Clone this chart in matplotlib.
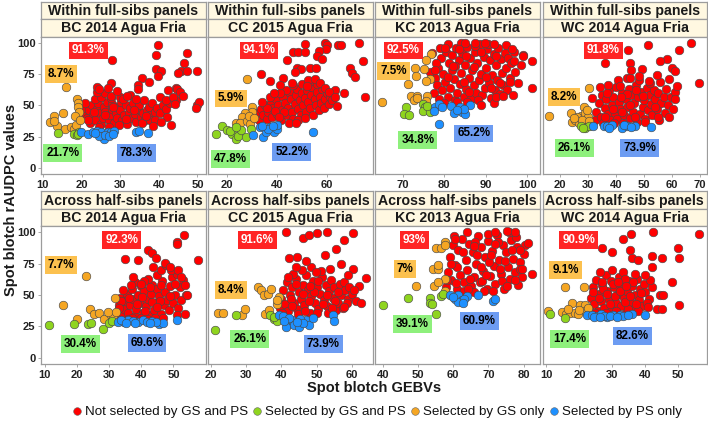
import matplotlib
matplotlib.use("Agg")
import matplotlib.pyplot as plt
from matplotlib.lines import Line2D

plt.rcParams['font.family'] = ['Liberation Sans', 'DejaVu Sans']

# colours of the four groups
c_red = "#ff0000"
c_green = "#8fd41f"
c_orange = "#f5a623"
c_blue = "#1e90ff"
box_colors = {"red": "#ff2424", "orange": "#fcc14f", "green": "#8ef07c", "blue": "#6d9cf2"}

rows = ["Within full-sibs panels", "Across half-sibs panels"]
envs = ["BC 2014 Agua Fria", "CC 2015 Agua Fria", "KC 2013 Agua Fria", "WC 2014 Agua Fria"]

# ---------------- BC 2014, within full-sibs ----------------
bc14_full_red = [(20.5,44),(21,48),(21.5,40),(22,46),(22.2,36),(22.8,50),(23,42),(23.5,38),(24,47),(24.2,52),
    (24.8,44),(25,35),(25.5,40),(25.8,49),(26.2,45),(26.5,53),(27,38),(27.3,42),(27.8,47),(28,51),(28.4,36),
    (28.8,44),(29.2,40),(29.5,49),(30,46),(30.2,53),(30.6,38),(31,42),(31.4,50),(31.8,35),(32.2,45),(32.5,48),
    (33,40),(33.3,52),(33.8,43),(34.2,37),(34.5,47),(35,50),(35.3,41),(35.8,44),(36.2,54),(36.5,38),(37,46),
    (37.4,49),(38,42),(38.3,52),(39,45),(39.5,48),(40.2,44),(41,50),(42,47),(23.5,55),(25,57),(27.5,56),(30,57),
    (32.5,58),(34,55),(21.8,38),(24.5,33),(27.2,33),(29.8,34),(26,42.5),(28.2,48.5),(31.5,39),(35.6,35.5),
    (37.8,38.5),(20.8,52),(23.2,44.5),(30.8,55),(33.6,46),(36.8,41.5),(39,38),(43,52),(44.5,54),(42.2,41),
    (40.5,36.5),(24,61),(26,60),
    (39.8,98.1),(39.3,90.4),(47.3,91.7),(27.9,86.1),(39.4,79.5),(40.5,77.3),(46.5,83.7),(45.8,77.9),(47.4,77.9),
    (49.8,77.9),(45.1,75.7),(35.6,71.7),(37.4,69.1),(39.8,73.6),(27.5,68.3),(23.9,65.1),(24.4,62.9),(26.8,63.5),
    (34.6,66.1),(34.6,62.9),(42.4,62.4),(44.4,64.3),(44.8,62.9),(45.4,60.3),(27.5,57.6),(29.2,61.6),(31.8,57.6),
    (40.2,56.3),(41.9,54.4),(43.7,56.3),(46.3,57.6),(44.1,50.9),(49.8,50.1),(50.4,52.3),(49.6,47.5),(43.2,34.1),
    (38.5,33.6)]
bc14_full_orange = [(16.0,64.8),(18.8,55.0),(19.2,51.5),(19.0,48.3),(19.4,44.8),(18.3,41.6),(15.1,43.7),(12.9,41.1),
    (11.9,36.8),(13.6,33.6),(15.7,30.9),(17.3,32.3),(18.1,30.9),(18.6,34.1),(12.9,37.6),(19.6,38.5)]
bc14_full_green = [(14.0,27.7),(18.1,26.9),(18.8,26.4),(19.4,28.3),(19.0,27.3)]
bc14_full_blue = [(19.9,28.8),(21.8,26.7),(22.9,28.3),(24.0,29.1),(25.1,28.3),(25.5,25.6),(25.9,22.9),(26.8,28.3),
    (27.7,28.8),(24.6,25.6),(34.2,28.3),(34.9,29.3),(37.1,27.7),(28.5,29.5),(23.5,27.5),(26.2,26.5),(27.2,25.8),
    (28.2,27.2)]

# ---------------- CC 2015, within full-sibs ----------------
cc15_full_red = [(31,40),(32,44),(33,38),(33.5,47),(34.5,42),(35,50),(36,39),(36.5,45),(37.5,52),(38,41),(38.5,48),
    (39.5,55),(40,43),(40.5,50),(41.5,38),(42,46),(42.5,57),(43,52),(44,42),(44.5,48),(45,60),(45.5,55),(46,45),
    (46.5,39),(47,51),(47.5,58),(48,63),(48.5,47),(49,54),(49.5,42),(50,60),(50.5,50),(51,56),(51.5,45),(52,62),
    (52.5,53),(53,48),(53.5,58),(54,65),(54.5,42),(55,55),(55.5,50),(56,61),(56.5,46),(57,57),(57.5,52),(58,63),
    (58.5,48),(59,55),(60,60),(60.5,51),(61,57),(62,54),(63,62),(43.5,62),(46.5,66),(41,60),(39,45.5),(37,57),
    (49.8,67),(52.8,69),(55.8,67),(44.8,36),(48.2,38.5),(51.2,40),(42.8,44.5),(40.8,41),(35.8,48),(34,53),(38.8,60),
    (58.9,100.3),(59.9,98.1),(51.2,98.9),(64.1,98.1),(65.6,98.1),(72.5,99.7),(59.5,94.9),(46.5,93.1),(48.5,93.1),
    (51.2,93.1),(56.5,93.6),(55.9,89.6),(57.9,87.5),(44.1,86.4),(74.3,85.6),(47.9,80.3),(49.6,78.9),(53.2,79.7),
    (55.5,80.3),(47.2,76.8),(33.6,74.9),(37.2,69.6),(69.2,79.7),(69.9,75.7),(71.2,73.1),(42.5,72.3),(45.9,68.3),
    (41.2,66.1),(52.5,70.4),(55.2,71.5),(57.2,68.3),(51.9,65.6),(59.2,64.3),(60.5,60.3),(66.5,59.7),(74.9,56.3),
    (63.2,56.3),(63.9,49.6),(47.5,35.7)]
cc15_full_orange = [(27.9,71.5),(29.9,48.3),(29.9,44.3),(27.2,43.7),(25.9,40.3),(23.5,35.7),(25.2,35.7),(27.9,37.6),
    (29.2,35.0),(28.8,41.5),(30.8,39.5)]
cc15_full_green = [(17.9,33.6),(15.5,26.9),(19.9,30.4),(22.1,26.9),(23.5,22.9),(24.5,25.6),(25.6,30.4),(27.5,24.3),
    (29.6,30.9),(21.2,29.5),(23.8,32.5)]
cc15_full_blue = [(30.3,26.1),(33.2,32.3),(34.5,24.3),(35.5,28.8),(37.2,32.3),(38.9,28.3),(39.9,30.9),(39.9,34.1),
    (54.5,28.8),(36.4,31),(38.2,33.5),(34.0,33.8)]

# ---------------- KC 2013, within full-sibs ----------------
kc13_full_red = [(77.5,60),(77.8,72),(78.2,66),(78.5,80),(78.8,55),(79.2,88),(79.5,62),(79.8,75),(80.2,69),(80.5,93),
    (80.8,57),(81.2,84),(81.5,64),(81.8,78),(82,90),(82.3,71),(82.6,54),(82.9,96),(83.2,60),(83.5,86),(83.8,67),
    (84.1,76),(84.4,92),(84.7,57),(85,82),(85.3,63),(85.6,97),(85.9,72),(86.2,88),(86.5,55),(86.8,78),(87.1,66),
    (87.4,93),(87.7,60),(88,84),(88.3,70),(88.6,99),(88.9,75),(89.2,58),(89.5,89),(89.8,64),(90.1,80),(90.4,95),
    (90.7,68),(91,86),(91.3,56),(91.6,74),(91.9,91),(92.2,62),(92.5,82),(92.8,70),(93.1,96),(93.4,59),(93.7,87),
    (94,76),(94.3,66),(94.6,92),(94.9,80),(95.2,62),(95.5,88),(95.8,72),(96.1,84),(96.5,58),(96.8,93),(97.2,77),
    (79,96),(81,99),(84,100),(87.5,97.5),(90.5,99),(83,52.5),(85.5,53),(88.2,54),(80,51.5),(78,84),(76.5,77),(77,92),
    (95,98),(98.5,82),(99,90),(92,52),(89,50.5),(84.8,68.5),(86,61),(87.2,80.5),(88.8,92.5),(90,72.5),(91.2,63.5),
    (82.5,81.5),(81,73),(83.6,95),(85.2,89.5),(93.5,68),(92.5,89.5),(96,68.5),
    (80.2,96.3),(85.0,100.3),(87.5,100.3),(89.9,100.3),(91.9,98.9),(96.4,94.9),(98.9,89.6),(101.3,85.6),(96.8,85.6),
    (77.7,78.4),(82.2,81.6),(97.9,68.3),(101.3,63.5),(92.4,56.3),(94.2,57.1)]
kc13_full_orange = [(76.7,90.9),(75.7,86.4),(73.0,80.3),(75.1,78.9),(73.3,73.6),(76.5,71.5),(75.7,69.6),(71.2,66.9),
    (65.1,52.3),(72.0,57.1),(73.5,57.6),(72.7,54.4),(75.9,57.6),(75.7,53.6),(73.4,55.8)]
kc13_full_green = [(70.8,48.3),(70.4,42.9),(71.6,42.4),(74.9,50.9),(75.3,48.3),(76.1,46.9),(74.9,45.6),(76.5,44.8),
    (75.8,49.8)]
kc13_full_blue = [(77.7,48.3),(78.8,50.9),(77.6,45.6),(81.6,49.1),(82.4,43.7),(83.8,48.3),(84.4,44.8),(85.0,42.9),
    (86.3,50.1),(84.8,47.2),(78.7,34.9),(83.0,46.2),(79.5,49.0)]

# ---------------- WC 2014, within full-sibs ----------------
wc14_full_red = [(32.5,38),(33,45),(34,52),(34.5,41),(35,58),(35.5,36),(36,48),(36.5,55),(37,43),(37.5,62),(38,38),
    (38.5,50),(39,57),(39.5,44),(40,65),(40.5,39),(41,53),(41.5,47),(42,60),(42.5,36),(43,42),(43.5,55),(44,49),
    (44.5,63),(45,40),(45.5,58),(46,45),(46.5,52),(47,66),(47.5,37),(48,57),(48.5,43),(49,61),(49.5,49),(50,54),
    (50.5,39),(51,64),(51.5,46),(52,58),(52.5,51),(53,42),(53.5,62),(54,55),(54.5,47),(55,60),(55.5,38),(56,52),
    (57,57),(57.5,44),(58,63),(37.2,66),(40.8,70),(44,72),(48.2,70),(52.3,68),(55.6,69),(42.2,44.5),(46.8,41),
    (50.2,36.5),(38.8,47),(45.2,50.5),(49.5,57.5),(43.8,59),(47.2,62),(36.2,40.5),(41.8,57),(53.8,49),(39.2,35.5),
    (55,41),(58.5,50),(59.5,57),(61,61),(60.5,47),
    (66.9,100.3),(51.4,98.1),(44.3,94.4),(62.4,94.4),(58.2,87.5),(55.8,85.6),(36.2,83.7),(45.1,84.3),(45.4,78.4),
    (49.3,78.9),(60.0,80.3),(61.2,77.6),(69.5,68.3),(45.1,72.3),(48.1,73.6),(51.7,69.6),(54.6,74.1),(58.8,70.9),
    (61.8,65.6),(34.4,65.1),(31.4,55.5),(36.8,59.7),(41.5,65.6),(61.2,55.0),(58.8,40.3)]
wc14_full_orange = [(30.5,64.3),(28.5,48.3),(16.2,41.1),(24.0,43.7),(24.3,36.3),(25.5,38.4),(27.6,41.6),(29.0,43.7),
    (30.2,40.3),(26.7,35.7),(29.0,35.0),(26.0,41.0),(28.0,38.5),(30.5,37.5),(25.0,40.0),(29.6,46.0)]
wc14_full_green = [(27.6,33.1),(29.0,31.5),(30.5,33.6),(28.3,32.0)]
wc14_full_blue = [(31.7,33.1),(35.6,33.6),(36.8,33.1),(38.6,34.1),(42.1,31.5),(43.9,33.6),(46.9,33.6),(52.6,32.3),
    (37.5,31.8),(43.0,34.5),(45.5,32.8)]

# ---------------- BC 2014, across half-sibs ----------------
bc14_half_red = [(32.5,36),(33,42),(33.5,48),(34,33),(34.5,39),(35,45),(35.5,51),(36,36),(36.5,42),(37,55),(37.5,47),
    (38,33),(38.5,39),(39,50),(39.5,44),(40,57),(40.5,36),(41,53),(41.5,41),(42,47),(42.5,34),(43,51),(43.5,58),
    (44,38),(44.5,44),(45,55),(45.5,49),(46,35),(46.5,61),(47,42),(47.5,52),(48,46),(48.5,38),(49,57),(49.5,64),
    (50,44),(50.5,50),(51,67),(51.5,40),(52,56),(38,60),(42,63),(44.8,66),(46,70),(47.8,74),(49.2,70),(36.8,58),
    (34.2,54),(33.8,45),(35.8,30.8),(37.2,32),(39.8,31.5),(41.8,31.2),(44.2,32),(46.8,31.8),(43.2,44.5),(40.2,48.5),
    (45.8,45.5),(38.8,43),(41.2,37.5),(48.8,49.5),(44.8,40.5),(46.2,58),(42.8,56.5),(40.8,61.5),(50.5,58.5),(53,62),
    (54,50),(52.5,46),(33.2,39.5),(36.2,47.5),
    (53.3,97.8),(51.2,92.5),(51.2,90.3),(57.7,77.8),(42.1,85.8),(43.3,83.1),(44.7,79.1),(47.3,75.9),(48.9,72.5),
    (35.1,78.3),(39.0,77.8),(43.6,72.5),(51.5,69.8),(52.5,64.5),(53.5,57.8),(54.1,49.8),(37.4,64.5),(40.0,59.1),
    (51.2,34.3),(53.5,35.1)]
bc14_half_orange = [(22.8,65.3),(15.8,41.8),(20.0,30.6),(23.9,38.6),(25.4,35.1),(27.0,35.9),(28.5,30.6),(30.6,34.3),
    (31.9,47.7),(31.3,33.3),(29.5,36.5),(32.0,36.5)]
bc14_half_green = [(11.4,25.8),(19.0,27.1),(23.3,27.1),(24.4,27.9),(28.0,23.1),(30.1,27.9),(30.8,29.0)]
bc14_half_blue = [(32.9,28.5),(34.6,28.5),(36.0,29.8),(39.0,28.5),(40.5,29.8),(41.9,28.5),(45.4,27.1),(46.8,27.9),
    (51.2,29.8),(37.5,29.2),(43.5,29.2),(33.8,30.2),(38.2,27.6),(44.5,28.2),(35.4,27.5),(42.7,27.4)]

# ---------------- CC 2015, across half-sibs ----------------
cc15_half_red = [(39.5,40),(40,47),(40.5,54),(41,43),(41.5,60),(42,37),(42.5,50),(43,56),(43.5,44),(44,63),(44.5,39),
    (45,52),(45.5,47),(46,58),(46.5,42),(47,66),(47.5,54),(48,36),(48.5,49),(49,61),(49.5,44),(50,56),(50.5,39),
    (51,51),(51.5,64),(52,46),(52.5,58),(53,41),(53.5,53),(54,62),(54.5,48),(55,56),(55.5,38),(56,44),(56.5,59),
    (57,50),(57.5,40),(58,54),(59,47),(60,51),(61,45),(62,57),(43.2,67),(45.8,70),(48.5,72),(51.2,69),(53.8,71),
    (41.8,64),(40.2,35.5),(44.8,35),(46.8,37.5),(50.2,35.5),(53.2,36),(42.8,46.5),(47.8,45),(49.2,52.5),(52.8,50),
    (55.2,45.5),(44,59),(50.5,61.5),(46.2,50.5),(48,57.5),(56,52.5),(58.5,44),(43,41),(51.8,42.5),(54.2,39.5),
    (57.8,60.5),
    (41.3,100.5),(46.2,95.1),(47.8,97.8),(50.2,99.1),(53.0,99.9),(57.8,93.8),(60.4,99.1),(55.4,86.6),(42.1,79.1),
    (44.5,80.5),(47.1,77.0),(52.4,81.8),(56.9,75.1),(60.2,71.1),(64.0,63.7),(44.0,72.5),(49.7,68.5),(58.8,66.3),
    (59.2,56.5),(60.7,53.8),(62.6,43.9),(57.8,40.5)]
cc15_half_orange = [(33.3,56.5),(34.2,54),(35.0,49.8),(36.2,51.1),(37.1,54.6),(39.2,48.5),(38.8,43.1),(38.8,46),
    (22.1,36.0),(23.5,36.0),(28.8,34.3),(29.7,39.1),(35.4,35.1),(36.5,38)]
cc15_half_green = [(21.3,21.8),(27.0,33.8),(36.9,33.8),(37.9,31.1),(38.8,29.0),(38.0,32.5)]
cc15_half_blue = [(39.2,34.3),(40.4,33.3),(41.9,27.1),(41.3,24.5),(43.0,29.8),(43.5,25.8),(44.9,24.5),(46.9,29.8),
    (47.8,25.8),(54.7,33.8),(55.0,29.0),(45.2,30.5),(42.2,31.5),(49.0,31.8),(46.0,27.6),(40.8,29.5),(44.5,28.5)]

# ---------------- KC 2013, across half-sibs ----------------
kc13_half_red = [(58,56),(58.5,68),(59,80),(59.5,62),(60,90),(60.5,74),(61,55),(61.5,86),(62,66),(62.5,95),(63,60),
    (63.5,78),(64,70),(64.5,91),(65,57),(65.5,84),(66,64),(66.5,75),(67,97),(67.5,60),(68,88),(68.5,69),(69,80),
    (69.5,55),(70,93),(70.5,65),(71,85),(71.5,73),(72,59),(72.5,98),(73,78),(73.5,67),(74,90),(74.5,55),(75,84),
    (75.5,72),(76,63),(76.5,94),(77,79),(77.5,68),(78,88),(78.5,58),(79,76),(79.5,64),(80,83),(60.2,97),(63.8,100),
    (66.2,92),(69.8,99),(72.8,92),(75.8,100),(77.8,96),(61.2,72),(64.8,62.5),(66.8,82),(68.2,61),(70.2,76),
    (71.8,90.5),(73.8,61.5),(74.8,77),(76.8,86),(62.8,84.5),(65.8,89),(67.8,72),(69.2,66),(71.2,53.5),(73.2,70.5),
    (60.8,59.5),(63.2,53.5),(66,52.5),(68.8,53),(75.2,57),(79,71),(80.5,90),(70.8,81.5),
    (75.2,101),(77.6,99.9),(71.9,99.9),(81.2,91.1),(79.0,85.8),(60.5,94.6),(82.4,67.1),(79.5,71.1),(77.6,61.8),
    (59.3,75.1),(58.1,61.8),(64.3,55.1)]
kc13_half_orange = [(57.6,92.5),(55.0,87.7),(56.5,87.7),(57.8,89.6),(54.3,70.6),(55.7,70.6),(55.7,74.3),(57.6,63.1),
    (54.5,57.3),(55.6,60.2),(49.5,57.3),(57.6,53.0)]
kc13_half_green = [(40.0,42.3),(47.1,47.7),(53.3,47.7),(53.3,43.9),(54.0,43.1),(55.2,35.1),(56.5,49.3),(57.2,50.8)]
kc13_half_blue = [(59.0,50.3),(60.5,46.6),(61.4,49.8),(62.4,45.8),(63.8,49.3),(67.0,49.8),(71.4,45.0),(71.9,47.1),
    (61.5,44.5),(63.0,47.2),(62.8,43.8),(60.0,48.5)]

# ---------------- WC 2014, across half-sibs ----------------
wc14_half_red = [(23,40),(23.5,48),(24,56),(24.5,43),(25,62),(25.5,37),(26,51),(26.5,45),(27,58),(27.5,40),(28,66),
    (28.5,53),(29,47),(29.5,61),(30,38),(30.5,56),(31,44),(31.5,50),(32,64),(32.5,41),(33,58),(33.5,48),(34,36),
    (34.5,53),(35,61),(35.5,44),(36,57),(36.5,39),(37,50),(37.5,63),(38,46),(38.5,55),(39,41),(39.5,59),(40,52),
    (41,47),(42,56),(26.2,68),(29.8,70),(33.2,68),(36.8,67),(24.8,35.5),(28.2,36),(31.2,37),(34.8,38.5),(37.8,37),
    (25.8,47.8),(27.2,54.5),(29.2,42.5),(30.8,49),(32.2,53.5),(33.8,44.5),(35.2,49.5),(36.2,60.5),(38.8,51.5),
    (26.8,60.5),(30.2,59),(33.8,62.5),(28.5,50.5),(31.8,60.5),(34.2,57),(37.2,42.5),(24.2,52.5),(40.5,44),(41.5,62),
    (39.8,66),
    (56.3,98.3),(42.4,100.5),(35.7,98.3),(33.3,94.6),(49.8,87.7),(50.2,79.1),(41.9,81.3),(45.2,79.1),(27.0,87.7),
    (29.8,84.5),(35.4,85.8),(35.9,79.1),(37.9,77.8),(41.9,72.5),(48.0,60.0),(44.4,50.3),(45.5,49.8),(50.2,41.8),
    (40.7,40.5),(43.4,39.1),(44.9,39.1)]
wc14_half_orange = [(15.5,56.5),(21.5,56.5),(17.7,43.9),(10.6,37.0),(14.6,36.5),(15.9,35.1),(17.2,35.5),(18.7,35.9),
    (20.2,41.8),(21.7,41.8),(21.7,37.0),(19.5,35.0),(16.5,38.5),(20.0,38.2),(22.5,39.5)]
wc14_half_green = [(11.1,35.1),(15.5,31.7)]
wc14_half_blue = [(22.2,34.3),(23.7,33.8),(25.3,33.3),(28.3,32.5),(30.3,34.3),(32.3,34.3),(33.3,33.3),(36.1,35.1),
    (39.9,33.8),(26.5,34.6),(24.5,32.4),(27.4,33.6),(29.2,33.2),(31.4,32.6),(34.6,34.2),(26.2,32.1)]

# percentages shown in each panel: red, orange, green, blue
pct_full = [("91.3%", "8.7%", "21.7%", "78.3%"), ("94.1%", "5.9%", "47.8%", "52.2%"),
            ("92.5%", "7.5%", "34.8%", "65.2%"), ("91.8%", "8.2%", "26.1%", "73.9%")]
pct_half = [("92.3%", "7.7%", "30.4%", "69.6%"), ("91.6%", "8.4%", "26.1%", "73.9%"),
            ("93%", "7%", "39.1%", "60.9%"), ("90.9%", "9.1%", "17.4%", "82.6%")]

panels_full = [
    (bc14_full_red, bc14_full_orange, bc14_full_green, bc14_full_blue),
    (cc15_full_red, cc15_full_orange, cc15_full_green, cc15_full_blue),
    (kc13_full_red, kc13_full_orange, kc13_full_green, kc13_full_blue),
    (wc14_full_red, wc14_full_orange, wc14_full_green, wc14_full_blue)]
panels_half = [
    (bc14_half_red, bc14_half_orange, bc14_half_green, bc14_half_blue),
    (cc15_half_red, cc15_half_orange, cc15_half_green, cc15_half_blue),
    (kc13_half_red, kc13_half_orange, kc13_half_green, kc13_half_blue),
    (wc14_half_red, wc14_half_orange, wc14_half_green, wc14_half_blue)]

xlims_full = [(9.5, 52.1), (12.5, 78), (63.3, 103), (13.8, 72.5)]
xlims_half = [(8.8, 60), (19.2, 65.8), (37.8, 84.5), (8.8, 58.7)]
xticks_full = [[10, 20, 30, 40, 50], [20, 40, 60], [70, 80, 90, 100], [20, 30, 40, 50, 60, 70]]
xticks_half = [[10, 20, 30, 40, 50], [20, 30, 40, 50, 60], [40, 50, 60, 70, 80], [10, 20, 30, 40, 50]]

# label box positions (axes fraction): red, orange, green, blue
lbl_full = [[(0.287, 0.90), (0.122, 0.73), (0.132, 0.15), (0.58, 0.155)],
            [(0.31, 0.90), (0.138, 0.55), (0.136, 0.11), (0.51, 0.16)],
            [(0.173, 0.90), (0.112, 0.75), (0.26, 0.25), (0.60, 0.295)],
            [(0.37, 0.90), (0.13, 0.56), (0.195, 0.19), (0.59, 0.19)]]
lbl_half = [[(0.49, 0.90), (0.12, 0.715), (0.24, 0.145), (0.645, 0.15)],
            [(0.30, 0.90), (0.138, 0.535), (0.254, 0.18), (0.70, 0.145)],
            [(0.24, 0.90), (0.183, 0.69), (0.228, 0.29), (0.634, 0.31)],
            [(0.22, 0.90), (0.14, 0.68), (0.165, 0.18), (0.545, 0.20)]]

W, H = 708, 421
col_left = [41, 208, 375, 542.5]
col_w = 164.5
row_geom = [(1.5, 19, 36.7, 174), (191.5, 209, 226, 364)]  # strip1 top, strip2 top, panel top, panel bottom

border = "#9c9c9c"
strip_bg = "#fff8e1"


def px_rect(x0, y0, x1, y1):
    return [x0 / W, 1 - y1 / H, (x1 - x0) / W, (y1 - y0) / H]


def add_strip(fig, x0, y0, x1, y1, text):
    sax = fig.add_axes(px_rect(x0, y0, x1, y1))
    sax.set_facecolor(strip_bg)
    sax.set_xticks([])
    sax.set_yticks([])
    for sp in sax.spines.values():
        sp.set_color(border)
        sp.set_linewidth(0.9)
    sax.text(0.5, 0.47, text, ha="center", va="center", fontsize=10.2, fontweight="bold",
             color="#1a1a1a", transform=sax.transAxes)


def plot_panel(ax, groups, xlim, xticks, pct, lbl_pos, show_y):
    red, orange, green, blue = groups
    for pts, col in ((red, c_red), (orange, c_orange), (green, c_green), (blue, c_blue)):
        ax.scatter([p[0] for p in pts], [p[1] for p in pts], s=38, c=col,
                   edgecolors="#4a4a4a", linewidths=0.45, zorder=2)
    ax.set_xlim(*xlim)
    ax.set_ylim(-5, 105)
    ax.set_xticks(xticks)
    ax.set_yticks([0, 25, 50, 75, 100])
    ax.tick_params(length=2, width=0.6, color=border, pad=2, labelsize=8, labelcolor="#222222")
    for t in ax.get_xticklabels() + ax.get_yticklabels():
        t.set_fontweight("bold")
    if not show_y:
        ax.tick_params(axis="y", left=False, labelleft=False)
    for sp in ax.spines.values():
        sp.set_color(border)
        sp.set_linewidth(0.9)
    for txt, (fx, fy), key in zip(pct, lbl_pos, ("red", "orange", "green", "blue")):
        ax.text(fx, fy, txt, transform=ax.transAxes, ha="center", va="center", fontsize=8.4,
                fontweight="bold", color="white" if key == "red" else "black", zorder=5,
                bbox=dict(boxstyle="square,pad=0.25", fc=box_colors[key], ec="none"))


fig = plt.figure(figsize=(W / 100, H / 100), dpi=100)

for r, (panels, xlims, xticks, pcts, lbls) in enumerate([
        (panels_full, xlims_full, xticks_full, pct_full, lbl_full),
        (panels_half, xlims_half, xticks_half, pct_half, lbl_half)]):
    s1, s2, ptop, pbot = row_geom[r]
    for c in range(4):
        x0 = col_left[c]
        x1 = x0 + col_w
        add_strip(fig, x0, s1, x1, s2, rows[r])
        add_strip(fig, x0, s2, x1, ptop, envs[c])
        ax = fig.add_axes(px_rect(x0, ptop, x1, pbot))
        plot_panel(ax, panels[c], xlims[c], xticks[c], pcts[c], lbls[c], c == 0)

fig.text(374 / W, 1 - 388 / H, "Spot blotch GEBVs", ha="center", va="center", fontsize=10.5,
         fontweight="bold", color="#1a1a1a")
fig.text(11 / W, 1 - 200 / H, "Spot blotch rAUDPC values", ha="center", va="center", rotation=90,
         fontsize=10.5, fontweight="bold", color="#1a1a1a")

handles = [Line2D([], [], ls="none", marker="o", ms=5.5, mfc=col, mec="#666666", mew=0.4)
           for col in (c_red, c_green, c_orange, c_blue)]
names = ["Not selected by GS and PS", "Selected by GS and PS", "Selected by GS only", "Selected by PS only"]
fig.legend(handles, names, loc="center", bbox_to_anchor=(377 / W, 1 - 412 / H), ncol=4, frameon=False,
           fontsize=9.6, handlelength=0.7, handletextpad=0.25, columnspacing=0.35, borderpad=0,
           labelcolor="#111111")

fig.savefig("out.png", dpi=100)
